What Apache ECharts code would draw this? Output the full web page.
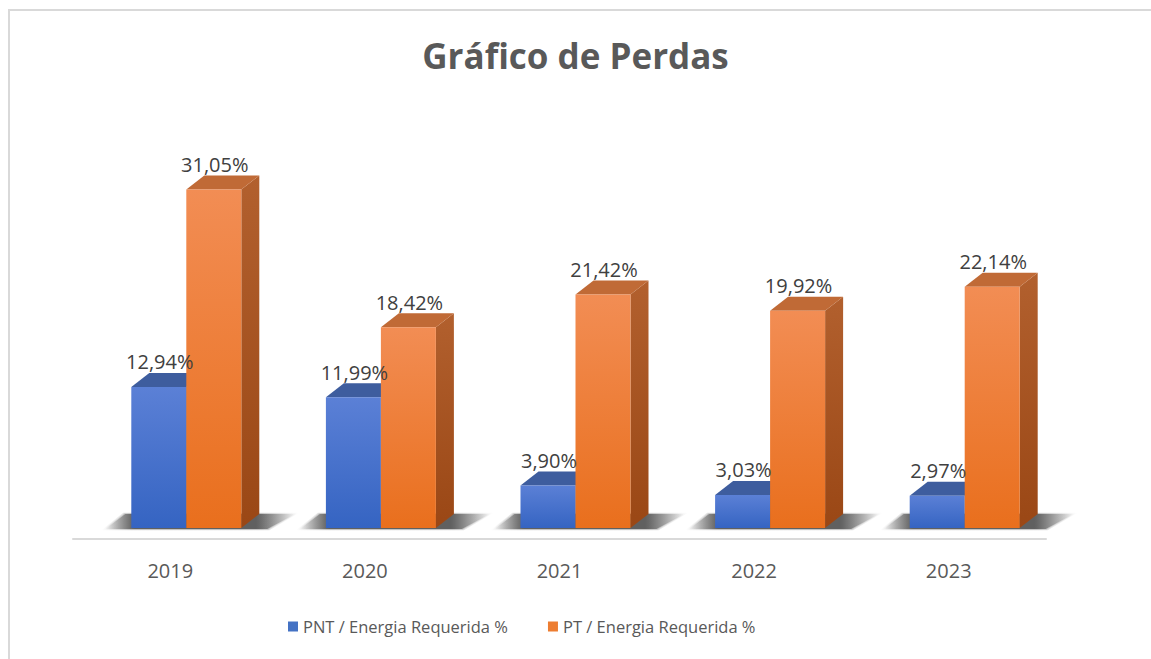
<!DOCTYPE html>
<html><head><meta charset="utf-8">
<script src="https://cdn.jsdelivr.net/npm/echarts@6/dist/echarts.min.js"></script>
<style>html,body{margin:0;padding:0;background:#fff}#c{width:1151px;height:659px}</style>
</head><body><div id="c"></div>
<script>
const years = ['2019', '2020', '2021', '2022', '2023'];
const pnt = [12.94, 11.99, 3.90, 3.03, 2.97];
const pt = [31.05, 18.42, 21.42, 19.92, 22.14];
const seriesNames = ['PNT / Energia Requerida %', 'PT / Energia Requerida %'];

const FONT = '"Open Sans", sans-serif';
const BAR_W = 55, DX = 18, DY = 14, LEFT_OFF = -39;

function fmt(v) { return v.toFixed(2).replace('.', ',') + '%'; }

function shadowLayer(gx0, gx1, yb, grow, alpha) {
  const L = gx0 - 28 - grow, R = gx1 + 36 + grow;
  const W = R - L;
  const a = 'rgba(0,0,0,' + alpha + ')';
  return {
    type: 'polygon',
    shape: { points: [
      [gx0 - 26 - grow, yb + 1 + grow * 0.3],
      [gx0 - 6 - grow * 0.5, yb - 14 - grow * 0.3],
      [gx1 + 36 + grow, yb - 14 - grow * 0.3],
      [gx1 + 8 + grow * 0.5, yb + 1 + grow * 0.3]
    ] },
    style: {
      fill: new echarts.graphic.LinearGradient(0, 0, 1, 0, [
        { offset: 0, color: 'rgba(0,0,0,0)' },
        { offset: Math.min(0.45, 30 / W), color: a },
        { offset: Math.max(0.55, 1 - 40 / W), color: a },
        { offset: 1, color: 'rgba(0,0,0,0)' }
      ])
    }
  };
}

function makeRender(which) {
  return function (params, api) {
    const ci = api.value(0), v = api.value(1);
    const c = api.coord([ci, v]);
    const b = api.coord([ci, 0]);
    const x0 = c[0] + LEFT_OFF + which * BAR_W;
    const x1 = x0 + BAR_W;
    const yt = c[1], yb = b[1];
    const children = [];
    if (which === 0) {
      const gx0 = x0, gx1 = x0 + 2 * BAR_W + DX;
      children.push(shadowLayer(gx0, gx1, yb, 4, 0.15));
      children.push(shadowLayer(gx0, gx1, yb, 2, 0.2));
      children.push(shadowLayer(gx0, gx1, yb, 0, 0.45));
    }
    const cols = which === 0
      ? { f1: '#5b80d6', f2: '#3564c2', top: '#3e5d9e', s1: '#2f4f95', s2: '#27437f' }
      : { f1: '#f28d54', f2: '#e96f1d', top: '#c06a36', s1: '#b2602e', s2: '#9a4715' };
    children.push({
      type: 'polygon',
      shape: { points: [[x1, yt], [x1 + DX, yt - DY], [x1 + DX, yb - DY], [x1, yb]] },
      style: { fill: new echarts.graphic.LinearGradient(0, 0, 0, 1, [{ offset: 0, color: cols.s1 }, { offset: 1, color: cols.s2 }]) }
    });
    children.push({
      type: 'polygon',
      shape: { points: [[x0, yt], [x0 + DX, yt - DY], [x1 + DX, yt - DY], [x1, yt]] },
      style: { fill: cols.top }
    });
    children.push({
      type: 'rect',
      shape: { x: x0, y: yt, width: BAR_W, height: yb - yt },
      style: { fill: new echarts.graphic.LinearGradient(0, 0, 0, 1, [{ offset: 0, color: cols.f1 }, { offset: 1, color: cols.f2 }]) }
    });
    children.push({
      type: 'text',
      style: {
        text: fmt(v), x: x0 + BAR_W / 2 + 1, y: yt - DY - 11,
        align: 'center', verticalAlign: 'middle',
        fill: '#404040', font: '20px ' + FONT
      },
      z2: 10
    });
    return { type: 'group', children: children };
  };
}

const chart = echarts.init(document.getElementById('c'), null, { renderer: 'svg' });
chart.setOption({
  animation: false,
  backgroundColor: '#fff',
  title: {
    text: 'Gráfico de Perdas', left: 'center', top: 33,
    textStyle: { fontFamily: FONT, fontWeight: 'bold', fontSize: 35, color: '#595959' }
  },
  legend: {
    top: 613, left: 283, itemWidth: 10, itemHeight: 10, itemGap: 40,
    icon: 'rect',
    textStyle: { fontFamily: FONT, fontSize: 16.5, color: '#595959' },
    data: seriesNames
  },
  graphic: [{
    type: 'rect', shape: { x: 9, y: 10, width: 1200, height: 700 },
    style: { fill: 'none', stroke: '#d9d9d9', lineWidth: 2 }, silent: true, z: -1
  }],
  grid: { left: 73, right: 105, top: 146.5, bottom: 131 },
  xAxis: {
    type: 'category', data: years, offset: 11,
    axisLine: { onZero: false, lineStyle: { color: '#d9d9d9', width: 2 } },
    axisTick: { show: false },
    axisLabel: { color: '#595959', fontSize: 20, fontFamily: FONT, margin: 21 }
  },
  yAxis: { type: 'value', min: 0, max: 35, show: false, splitLine: { show: false } },
  series: [
    {
      name: seriesNames[0], type: 'custom', itemStyle: { color: '#4472c4' },
      renderItem: makeRender(0), encode: { x: 0, y: 1 },
      data: pnt.map((v, i) => [i, v]), clip: false
    },
    {
      name: seriesNames[1], type: 'custom', itemStyle: { color: '#ed7d31' },
      renderItem: makeRender(1), encode: { x: 0, y: 1 },
      data: pt.map((v, i) => [i, v]), clip: false
    }
  ]
});
</script></body></html>
